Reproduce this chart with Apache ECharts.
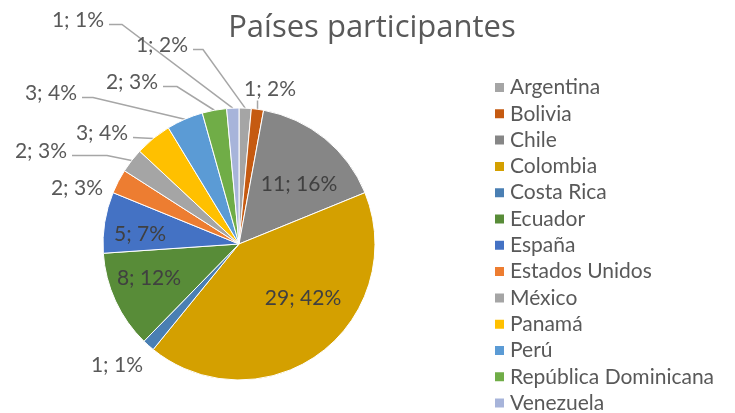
<!DOCTYPE html>
<html>
<head>
<meta charset="utf-8">
<script src="https://cdn.jsdelivr.net/npm/echarts@6/dist/echarts.min.js"></script>
<style>
  html, body { margin: 0; padding: 0; background: #fff; }
  #chart { width: 735px; height: 413px; }
</style>
</head>
<body>
<div id="chart"></div>
<script>
// data
const paises = ["Argentina", "Bolivia", "Chile", "Colombia", "Costa Rica", "Ecuador", "España",
  "Estados Unidos", "México", "Panamá", "Perú", "República Dominicana", "Venezuela"];
const participantes = [1, 1, 11, 29, 1, 8, 5, 2, 2, 3, 3, 2, 1];
const porcentajes = [2, 2, 16, 42, 1, 12, 7, 3, 3, 4, 4, 3, 1];
const colores = ["#A5A5A5", "#C55A11", "#868686", "#D4A000", "#4A7FB3", "#588C38", "#4472C4",
  "#ED7D31", "#A5A5A5", "#FFC000", "#5B9BD5", "#70AD47", "#A7B4DA"];

// where Excel placed each data label (layout only)
// kind: "in" = centred label, "right" = right-aligned with leader from its right side,
// "up" = centred label with a short vertical leader below it, "plain" = right-aligned, no leader
const labelSpots = {
  "Argentina": { kind: "right", x: 188, y: 45.5, elbow: 10 },
  "Bolivia": { kind: "up", x: 270, y: 89.5 },
  "Chile": { kind: "in", x: 299, y: 184 },
  "Colombia": { kind: "in", x: 303, y: 298 },
  "Costa Rica": { kind: "plain", x: 143, y: 365 },
  "Ecuador": { kind: "in", x: 149, y: 278 },
  "España": { kind: "in", x: 140, y: 234 },
  "Estados Unidos": { kind: "plain", x: 103, y: 188.5 },
  "México": { kind: "right", x: 67, y: 151.5, elbow: 35 },
  "Panamá": { kind: "right", x: 128, y: 133.5, elbow: 0 },
  "Perú": { kind: "right", x: 77, y: 93.5, elbow: 11 },
  "República Dominicana": { kind: "right", x: 158, y: 82.5, elbow: 14 },
  "Venezuela": { kind: "right", x: 104, y: 20.5, elbow: 13 }
};

const FONT = "Lato, 'Open Sans', sans-serif";

const pieData = paises.map((p, i) => {
  const spot = labelSpots[p];
  const hasLine = spot.kind === "right" || spot.kind === "up";
  return {
    name: p,
    value: participantes[i],
    pct: porcentajes[i],
    itemStyle: { color: colores[i] },
    label: { color: spot.kind === "in" ? "#404040" : "#595959" },
    labelLine: { show: hasLine }
  };
});

const chart = echarts.init(document.getElementById("chart"), null, { renderer: "canvas" });

chart.setOption({
  animation: false,
  backgroundColor: "#ffffff",
  textStyle: { fontFamily: FONT },
  title: {
    text: "Países participantes",
    left: 367,
    top: 8,
    textAlign: "center",
    textStyle: { fontFamily: "'Open Sans', sans-serif", fontSize: 31, fontWeight: "normal", color: "#595959" }
  },
  legend: {
    orient: "vertical",
    left: 493,
    top: 77,
    height: 340,
    padding: 0,
    itemWidth: 11,
    itemHeight: 11,
    itemGap: 5.3,
    icon: "rect",
    textStyle: { fontFamily: FONT, fontSize: 21, color: "#595959", lineHeight: 21 },
    data: paises
  },
  series: [
    {
      type: "pie",
      center: [239, 244],
      radius: [0, 136],
      startAngle: 90,
      clockwise: true,
      avoidLabelOverlap: false,
      itemStyle: { borderColor: "#ffffff", borderWidth: 1 },
      label: {
        show: true,
        position: "outside",
        fontFamily: FONT,
        fontSize: 21,
        formatter: (p) => p.value + "; " + p.data.pct + "%"
      },
      labelLine: {
        show: true,
        length: 5,
        length2: 5,
        lineStyle: { color: "#A6A6A6", width: 1.5 }
      },
      labelLayout: function (params) {
        const spot = labelSpots[paises[params.dataIndex]];
        const anchor = params.labelLinePoints ? params.labelLinePoints[0] : null;
        if (spot.kind === "in") {
          return { x: spot.x, y: spot.y, align: "center", verticalAlign: "middle" };
        }
        if (spot.kind === "plain") {
          return { x: spot.x, y: spot.y, align: "right", verticalAlign: "middle" };
        }
        if (spot.kind === "up") {
          return {
            x: spot.x, y: spot.y, align: "center", verticalAlign: "middle",
            labelLinePoints: [anchor, [anchor[0], spot.y + 11], [anchor[0], spot.y + 11]]
          };
        }
        // leader from the right side of the label
        const sx = spot.x + 5;
        const sy = spot.y + 4;
        const ex = sx + spot.elbow;
        return {
          x: spot.x, y: spot.y, align: "right", verticalAlign: "middle",
          labelLinePoints: [anchor, [ex, sy], [sx, sy]]
        };
      },
      data: pieData
    }
  ]
});
</script>
</body>
</html>
